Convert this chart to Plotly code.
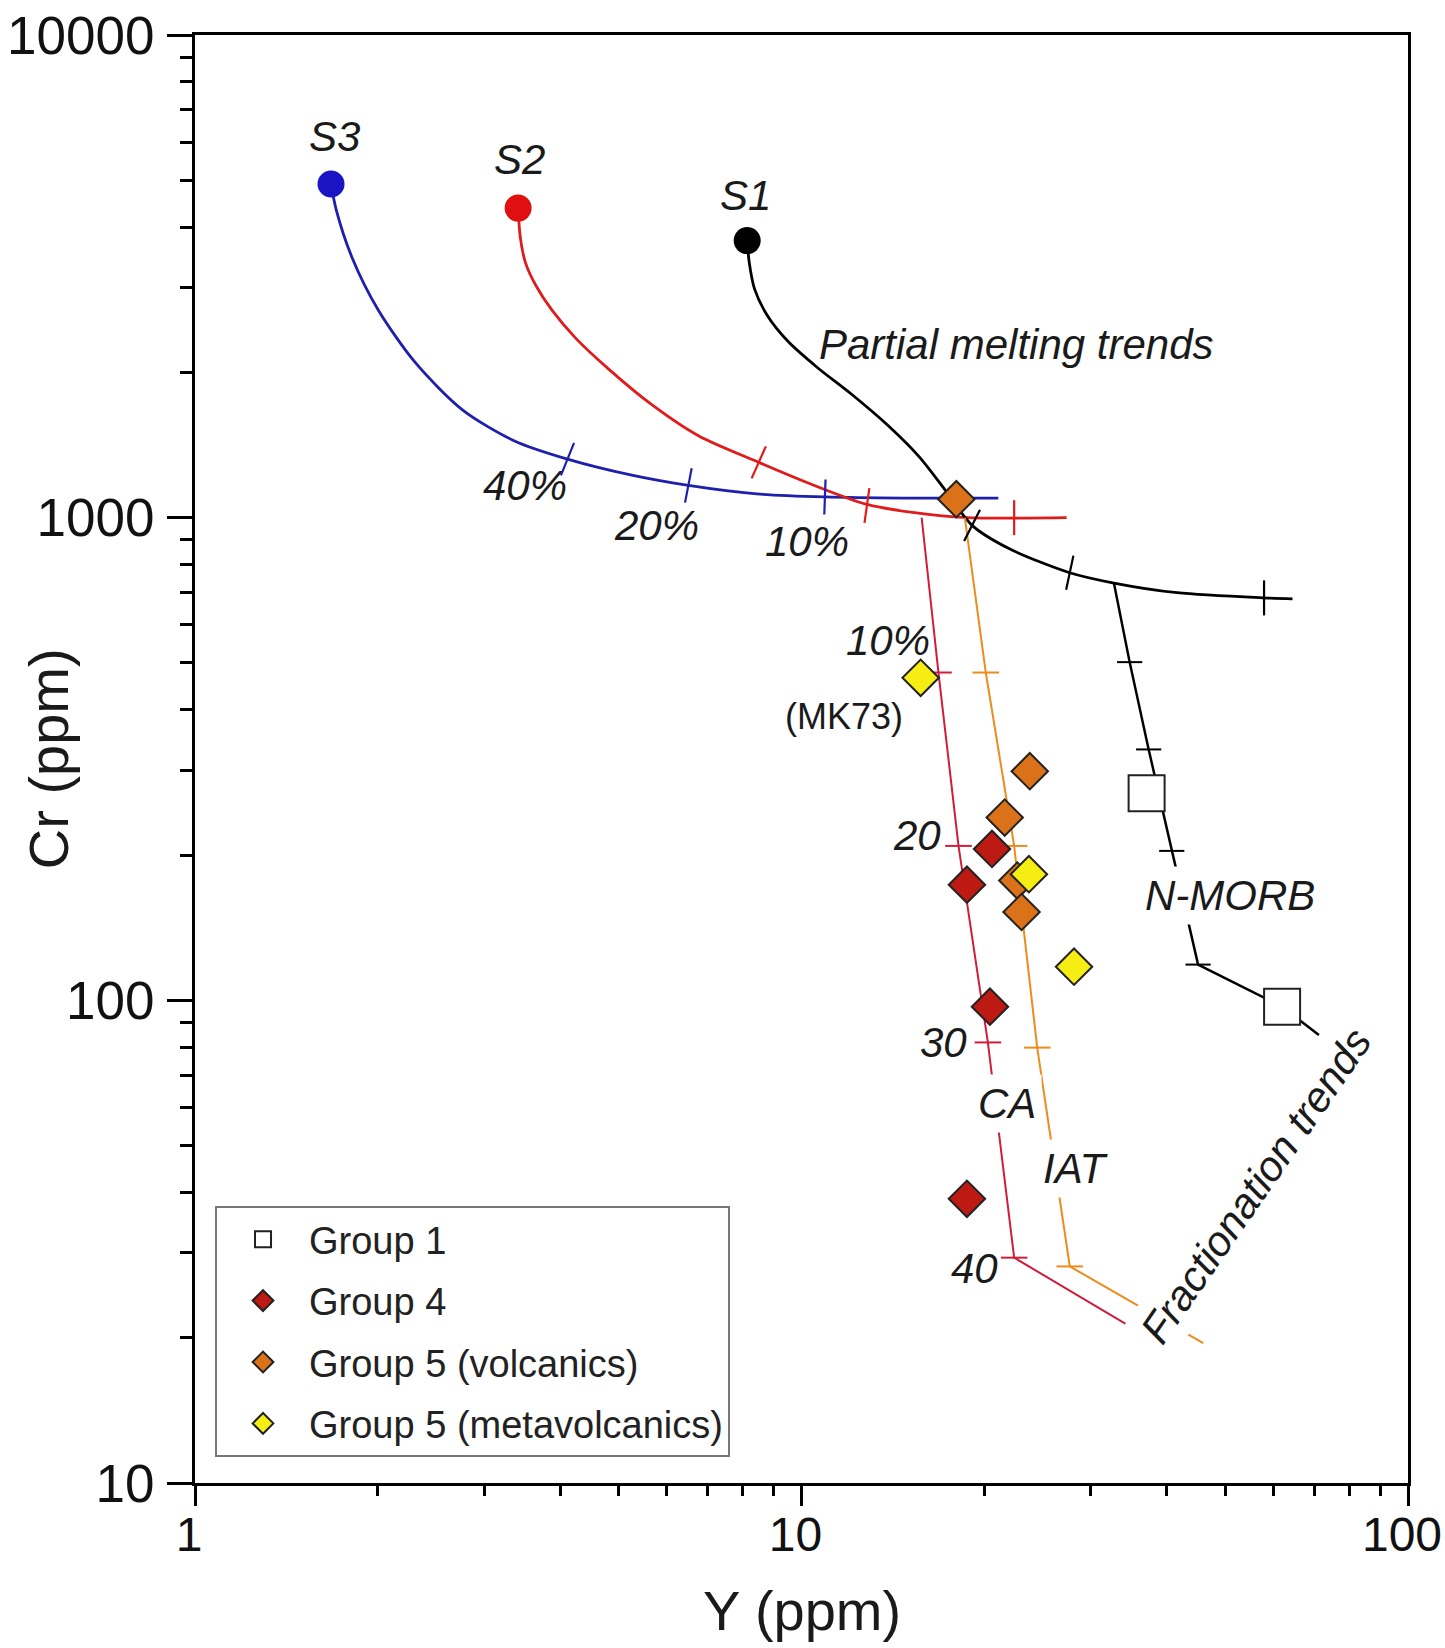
import plotly.graph_objects as go

FONT = "Arial, 'Liberation Sans', Helvetica, sans-serif"

# ---------------- data (Y ppm, Cr ppm) ----------------
# Partial melting trends from sources S3, S2, S1
s3_y = [1.676, 1.710, 1.815, 2.005, 2.307, 2.760, 3.371, 4.113, 5.226, 6.508, 8.434, 10.93, 14.75, 21.11]
s3_cr = [4914, 4337, 3461, 2694, 2097, 1673, 1440, 1322, 1226, 1166, 1120, 1104, 1098, 1098]
s2_y = [3.410, 3.437, 3.506, 3.650, 3.875, 4.246, 4.825, 5.657, 6.773, 8.502, 10.50, 12.82, 15.35, 18.74, 27.36]
s2_cr = [4379, 3825, 3376, 3023, 2694, 2352, 2024, 1716, 1476, 1302, 1166, 1065, 1024, 1000, 1000]
s1_y = [8.137, 8.201, 8.367, 8.777, 9.506, 10.63, 12.08, 13.89, 15.65, 17.29, 19.11, 21.98, 27.69, 32.74, 41.6, 57.9, 64.5]
s1_cr = [3750, 3376, 2978, 2627, 2317, 2045, 1804, 1552, 1335, 1137, 964, 863, 769, 732, 699, 682, 679]

# melting-degree tick positions on each curve
s3_tick_y = [4.113, 6.508, 10.93]
s3_tick_cr = [1322, 1166, 1104]
s2_tick_y = [8.502, 12.82, 22.42]
s2_tick_cr = [1302, 1060, 1000]
s1_tick_y = [19.11, 27.69, 57.9]
s1_tick_cr = [964, 769, 682]

# Fractionation trends
ca_y = [15.78, 16.82, 18.15, 20.29, 22.42, 35.46]
ca_cr = [1000, 477.7, 208.9, 81.8, 29.3, 20.8]
ca_tick_y = [16.82, 18.15, 20.29, 22.42]
ca_tick_cr = [477.7, 208.9, 81.8, 29.3]

iat_y = [18.59, 20.13, 22.42, 24.47, 27.69, 45.97]
iat_cr = [1000, 477.7, 208.9, 79.8, 28.1, 19.5]
iat_tick_y = [20.13, 22.42, 24.47, 27.69]
iat_tick_cr = [477.7, 208.9, 79.8, 28.1]

nmorb_y = [32.74, 34.76, 37.36, 40.78, 45.07, 62.0, 71.3]
nmorb_cr = [732, 502, 331, 204, 118.6, 97.0, 84.8]
nmorb_tick_y = [34.76, 37.36, 40.78, 45.07]
nmorb_tick_cr = [502, 331, 204, 118.6]

# Samples
g1_y = [37.07, 62.0]
g1_cr = [268.5, 97.0]
g4_y = [20.61, 18.74, 20.45, 18.74]
g4_cr = [205.9, 173.6, 97.0, 38.8]
g5v_y = [18.00, 23.79, 21.63, 22.69, 23.06]
g5v_cr = [1092, 298.3, 239.2, 177.1, 152.4]
g5m_y = [15.72, 23.71, 28.14]
g5m_cr = [465.9, 182.5, 117.4]

x_tickvals = [1, 10, 100]
y_tickvals = [10, 100, 1000, 10000]
x_minor = [2, 3, 4, 5, 6, 7, 8, 9, 20, 30, 40, 50, 60, 70, 80, 90]
y_minor = [20, 30, 40, 50, 60, 70, 80, 90, 200, 300, 400, 500, 600, 700, 800, 900,
           2000, 3000, 4000, 5000, 6000, 7000, 8000, 9000]

# ---------------- styles ----------------
BLUE = "#1f1fae"
RED = "#e01b1b"
CRIMSON = "#cf1d3c"
ORANGE = "#ee8b1d"

fig = go.Figure()


def curve(x, y, color, width=2.5, spline=False):
    fig.add_trace(go.Scatter(
        x=x, y=y, mode="lines", showlegend=False, hoverinfo="skip",
        line=dict(color=color, width=width, shape="spline" if spline else "linear",
                  smoothing=0.8 if spline else None)))


def ticks(x, y, color, symbol, size, angles, width=2.2):
    fig.add_trace(go.Scatter(
        x=x, y=y, mode="markers", showlegend=False, hoverinfo="skip",
        marker=dict(symbol=symbol, size=size, angle=angles,
                    line=dict(color=color, width=width), color=color)))


# melting curves
curve(s3_y, s3_cr, BLUE, width=2.8, spline=True)
curve(s2_y, s2_cr, RED, width=2.8, spline=True)
curve(s1_y, s1_cr, "black", width=2.8, spline=True)
# fractionation lines
curve(ca_y, ca_cr, CRIMSON, width=2)
curve(iat_y, iat_cr, ORANGE, width=2)
curve(nmorb_y, nmorb_cr, "black", width=2.5)

ticks(s3_tick_y, s3_tick_cr, BLUE, "line-ns", 25, [22, 11, 2])
ticks(s2_tick_y, s2_tick_cr, RED, "line-ns", 25, [24, 8, 0])
ticks(s1_tick_y, s1_tick_cr, "black", "line-ns", 25, [27, 12, 0])
ticks(ca_tick_y, ca_tick_cr, CRIMSON, "line-ew", 19, [0, 0, 0, 0], width=2)
ticks(iat_tick_y, iat_tick_cr, ORANGE, "line-ew", 19, [0, 0, 0, 0], width=2)
ticks(nmorb_tick_y, nmorb_tick_cr, "black", "line-ew", 18, [0, 0, 0, 0], width=2)

# source points
fig.add_trace(go.Scatter(x=[s3_y[0]], y=[s3_cr[0]], mode="markers", showlegend=False,
                         marker=dict(symbol="circle", size=27, color="#1a14c4")))
fig.add_trace(go.Scatter(x=[s2_y[0]], y=[s2_cr[0]], mode="markers", showlegend=False,
                         marker=dict(symbol="circle", size=27, color="#e01010")))
fig.add_trace(go.Scatter(x=[s1_y[0]], y=[s1_cr[0]], mode="markers", showlegend=False,
                         marker=dict(symbol="circle", size=27, color="black")))

# samples
fig.add_trace(go.Scatter(x=g1_y, y=g1_cr, mode="markers", name="Group 1", legendgroup="g1",
                         marker=dict(symbol="square", size=36, color="white",
                                     line=dict(color="#222", width=2))))
fig.add_trace(go.Scatter(x=g4_y, y=g4_cr, mode="markers", name="Group 4", legendgroup="g4",
                         marker=dict(symbol="diamond", size=28, color="#bc1a12",
                                     line=dict(color="#222", width=2))))
fig.add_trace(go.Scatter(x=g5v_y, y=g5v_cr, mode="markers", name="Group 5 (volcanics)", legendgroup="g5v",
                         marker=dict(symbol="diamond", size=28, color="#db7219",
                                     line=dict(color="#222", width=2))))
fig.add_trace(go.Scatter(x=g5m_y, y=g5m_cr, mode="markers", name="Group 5 (metavolcanics)", legendgroup="g5m",
                         marker=dict(symbol="diamond", size=28, color="#f6ee12",
                                     line=dict(color="#222", width=2))))

# ---------------- text labels (log10 positions) ----------------
TXT = "#1a1a1a"
labels = [
    ("<i>S3</i>", 0.2295, 3.7895, 0, None),
    ("<i>S2</i>", 0.5345, 3.7416, 0, None),
    ("<i>S1</i>", 0.9070, 3.6676, 0, None),
    ("<i>Partial melting trends</i>", 1.354, 3.3585, 0, None),
    ("<i>40%</i>", 0.5448, 3.0667, 0, None),
    ("<i>20%</i>", 0.7614, 2.9840, 0, None),
    ("<i>10%</i>", 1.0092, 2.9514, 0, None),
    ("<i>10%</i>", 1.1426, 2.7445, 0, None),
    ("<i>20</i>", 1.1911, 2.3418, 0, None),
    ("<i>30</i>", 1.2345, 1.9129, 0, None),
    ("<i>40</i>", 1.2847, 1.4449, 0, None),
    ("<i>CA</i>", 1.3384, 1.7867, 0, "white"),
    ("<i>IAT</i>", 1.4528, 1.6517, 0, "white"),
    ("<i>N-MORB</i>", 1.7057, 2.2177, 0, "white"),
    ("<i>Fractionation trends</i>", 1.7491, 1.6169, -55.4, "white"),
]
annotations = []
for text, lx, ly, ang, bg in labels:
    a = dict(text=text, x=lx, y=ly, xref="x", yref="y", showarrow=False,
             textangle=ang, font=dict(family=FONT, size=42, color=TXT),
             xanchor="center", yanchor="middle")
    if bg:
        a.update(bgcolor=bg, borderpad=5)
    annotations.append(a)

annotations.append(dict(text="(MK73)", x=1.0698, y=2.5878, xref="x", yref="y", showarrow=False,
                        font=dict(family=FONT, size=36, color=TXT), xanchor="center", yanchor="middle"))
# axis titles
annotations.append(dict(text="Y (ppm)", x=0.5, y=-0.088, xref="paper", yref="paper", showarrow=False,
                        font=dict(family=FONT, size=56, color=TXT), xanchor="center", yanchor="middle"))
annotations.append(dict(text="Cr (ppm)", x=-0.121, y=0.5, xref="paper", yref="paper", showarrow=False,
                        textangle=-90, font=dict(family=FONT, size=56, color=TXT),
                        xanchor="center", yanchor="middle"))

axis_common = dict(type="log", ticks="outside", tickcolor="black", tickwidth=2.5,
                   showline=True, linewidth=3, linecolor="black", mirror=True,
                   showgrid=False, zeroline=False, ticklabeloverflow="allow",
                   automargin=False)

fig.update_layout(
    width=1445, height=1648,
    margin=dict(l=195, r=37, t=35, b=165, autoexpand=False),
    paper_bgcolor="white", plot_bgcolor="white",
    xaxis=dict(range=[0, 2], tickvals=x_tickvals, ticktext=[str(v) for v in x_tickvals],
               ticklen=20, ticklabelstandoff=-13, ticklabelshift=-6,
               tickfont=dict(family=FONT, size=48, color="#111"),
               minor=dict(tickvals=x_minor, ticks="outside", ticklen=10, tickwidth=2.5,
                          tickcolor="black", showgrid=False),
               **axis_common),
    yaxis=dict(range=[1, 4], tickvals=y_tickvals, ticktext=[str(v) for v in y_tickvals],
               ticklen=25, ticklabelstandoff=2,
               tickfont=dict(family=FONT, size=53, color="#111"),
               minor=dict(tickvals=y_minor, ticks="outside", ticklen=12, tickwidth=2.5,
                          tickcolor="black", showgrid=False),
               **axis_common),
    legend=dict(x=0.0165, y=0.1913, xanchor="left", yanchor="top",
                bordercolor="#777", borderwidth=2, bgcolor="white",
                font=dict(family=FONT, size=38, color="#222"),
                itemwidth=82, tracegroupgap=9, traceorder="grouped"),
    annotations=annotations,
    showlegend=True,
)

# remove the browser's default 8px page margin so the figure sits at the page origin
fig.write_html("out.html", config={"displayModeBar": False},
               post_script="document.body.style.margin='0px';")
